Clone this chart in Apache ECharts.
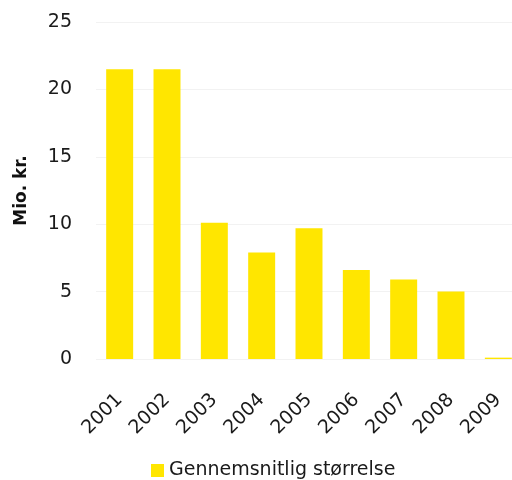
<!DOCTYPE html>
<html>
<head>
<meta charset="utf-8">
<script src="https://cdn.jsdelivr.net/npm/echarts@6/dist/echarts.min.js"></script>
<style>
html, body { margin: 0; padding: 0; background: #fff; }
#chart { width: 512px; height: 480px; }
</style>
</head>
<body>
<div id="chart"></div>
<script>
var years = ['2001', '2002', '2003', '2004', '2005', '2006', '2007', '2008', '2009'];
var avgSize = [21.5, 21.5, 10.1, 7.9, 9.7, 6.6, 5.9, 5.0, 0.1];
var seriesName = 'Gennemsnitlig størrelse';

var option = {
    animation: false,
    textStyle: { fontFamily: 'DejaVu Sans' },
    grid: { left: 96, right: -10, top: 22, bottom: 121, outerBoundsMode: 'none' },
    legend: {
        bottom: -5,
        left: 146,
        icon: 'rect',
        itemWidth: 13,
        itemHeight: 13,
        itemGap: 6,
        textStyle: { fontSize: 19, color: '#1a1a1a', fontFamily: 'DejaVu Sans' },
        data: [seriesName]
    },
    xAxis: {
        type: 'category',
        data: years,
        axisLine: { show: false },
        axisTick: { show: false },
        axisLabel: {
            rotate: 45,
            fontSize: 19,
            color: '#1a1a1a',
            margin: 38
        }
    },
    yAxis: {
        type: 'value',
        min: 0,
        max: 25,
        interval: 5,
        name: 'Mio. kr.',
        nameLocation: 'middle',
        nameRotate: 90,
        nameGap: 66,
        nameTextStyle: { fontSize: 17, fontWeight: 'bold', color: '#111' },
        axisLabel: { fontSize: 19, color: '#1a1a1a', margin: 24 },
        splitLine: { lineStyle: { color: '#f2f2f2', width: 1 } }
    },
    series: [
        {
            name: seriesName,
            type: 'bar',
            data: avgSize,
            barWidth: '57%',
            itemStyle: { color: '#ffe600' }
        }
    ]
};

var myChart = echarts.init(document.getElementById('chart'));
myChart.setOption(option);
</script>
</body>
</html>
